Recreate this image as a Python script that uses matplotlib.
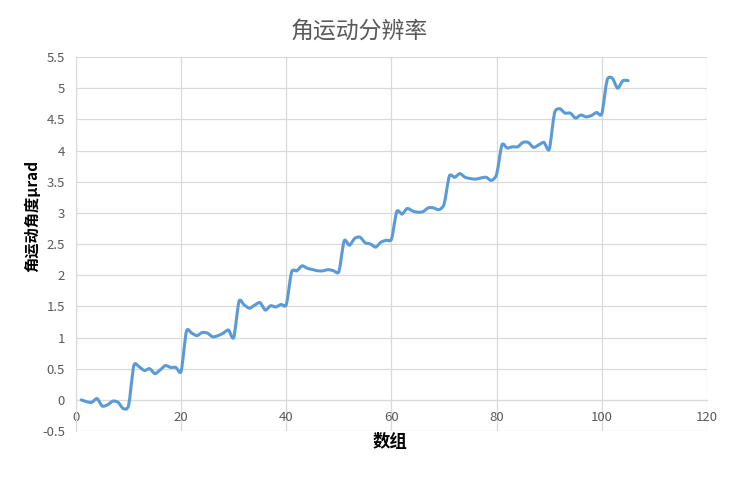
import numpy as np
import matplotlib
matplotlib.use("Agg")
import matplotlib.pyplot as plt
from matplotlib.path import Path
from matplotlib.patches import PathPatch

plt.rcParams['font.family'] = ['Noto Sans CJK SC', 'DejaVu Sans']

# data (x = 1..105)
x = list(range(1, 106))
y = [0.00, -0.03, -0.04, 0.02, -0.10, -0.08, -0.02, -0.04, -0.14, -0.09,
     0.55, 0.53, 0.47, 0.50, 0.42, 0.48, 0.55, 0.52, 0.52, 0.46,
     1.10, 1.07, 1.03, 1.08, 1.07, 1.01, 1.03, 1.07, 1.12, 1.00,
     1.58, 1.52, 1.47, 1.52, 1.56, 1.44, 1.51, 1.49, 1.53, 1.53,
     2.05, 2.07, 2.15, 2.11, 2.09, 2.07, 2.07, 2.09, 2.07, 2.06,
     2.55, 2.48, 2.59, 2.61, 2.52, 2.50, 2.45, 2.53, 2.56, 2.58,
     3.02, 2.98, 3.07, 3.03, 3.01, 3.02, 3.08, 3.08, 3.05, 3.14,
     3.59, 3.57, 3.63, 3.57, 3.55, 3.54, 3.56, 3.57, 3.52, 3.62,
     4.09, 4.04, 4.06, 4.06, 4.13, 4.13, 4.05, 4.09, 4.13, 4.02,
     4.60, 4.67, 4.60, 4.60, 4.52, 4.57, 4.54, 4.56, 4.61, 4.59,
     5.13, 5.16, 5.00, 5.12, 5.12]

title = "角运动分辨率"
xlabel = "数组"
ylabel = "角运动角度μrad"

line_color = "#5b9bd5"
grid_color = "#d9d9d9"
text_grey = "#595959"

fig = plt.figure(figsize=(7.4, 4.84), dpi=100)
ax = fig.add_axes([0.1027, 0.1095, 0.8527, 0.7727])

# smoothed line like Excel (cubic bezier through the points)
pts = np.column_stack([x, y]).astype(float)
verts = [pts[0]]
codes = [Path.MOVETO]
n = len(pts)
k = 1.0 / 8.0
for i in range(n - 1):
    p0 = pts[i - 1] if i > 0 else pts[i]
    p1 = pts[i]
    p2 = pts[i + 1]
    p3 = pts[i + 2] if i + 2 < n else pts[i + 1]
    c1 = p1 + (p2 - p0) * k
    c2 = p2 - (p3 - p1) * k
    verts += [c1, c2, p2]
    codes += [Path.CURVE4] * 3
ax.add_patch(PathPatch(Path(verts, codes), facecolor="none",
                       edgecolor=line_color, lw=2.2, capstyle="round",
                       joinstyle="round", zorder=3))

ax.set_xlim(0, 120)
ax.set_ylim(-0.5, 5.5)
ax.set_xticks(range(0, 121, 20))
ax.set_yticks(np.arange(-0.5, 5.51, 0.5))
ax.set_yticklabels(["-0.5", "0", "0.5", "1", "1.5", "2", "2.5", "3",
                    "3.5", "4", "4.5", "5", "5.5"])

ax.grid(True, color=grid_color, lw=0.9)
ax.set_axisbelow(True)
for s in ["top", "right"]:
    ax.spines[s].set_visible(False)
ax.spines["left"].set_color(grid_color)
ax.spines["bottom"].set_color(grid_color)
ax.spines["bottom"].set_position(("data", 0))
ax.tick_params(length=0, colors=text_grey, labelsize=9.5)
ax.tick_params(axis="x", pad=8)
ax.tick_params(axis="y", pad=8)

fig.text(0.486, 0.935, title, ha="center", va="center", fontsize=16.5,
         color=text_grey)
fig.text(0.527, 0.087, xlabel, ha="center", va="center", fontsize=12.5,
         fontweight="bold", color="black")
fig.text(0.043, 0.554, ylabel, ha="center", va="center", fontsize=11,
         fontweight="bold", color="black", rotation=90)

fig.savefig("out.png", dpi=100)
